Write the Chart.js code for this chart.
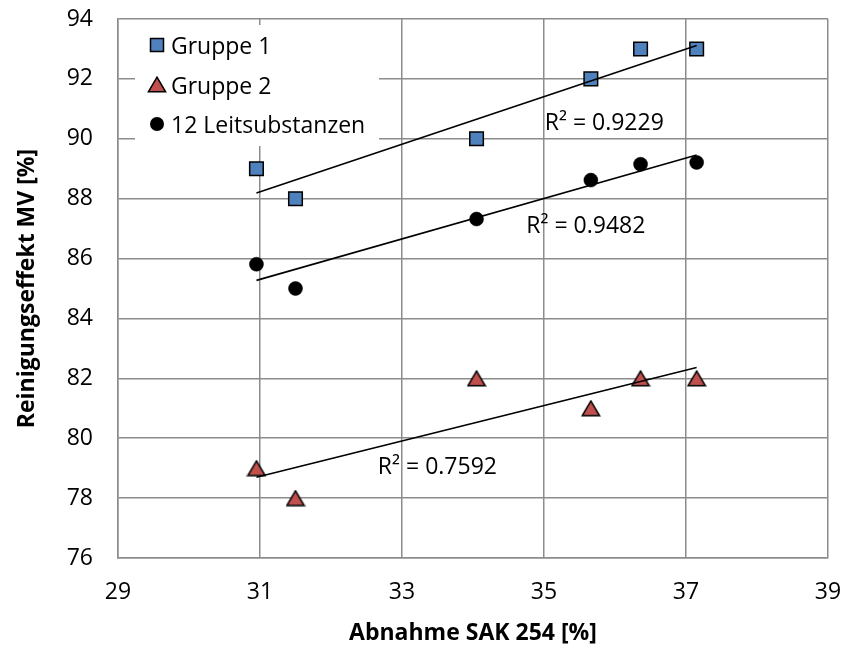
<!DOCTYPE html>
<html><head><meta charset="utf-8">
<script src="https://cdn.jsdelivr.net/npm/chart.js@4.4.1/dist/chart.umd.min.js"></script>
<style>html,body{margin:0;padding:0;background:#fff;}canvas{display:block;}</style>
</head><body>
<canvas id="c" width="844" height="649"></canvas>
<script>
// ---- data ----
const seriesNames = ['Gruppe 1', 'Gruppe 2', '12 Leitsubstanzen'];
const sakDecrease = [30.95, 31.50, 34.05, 35.66, 36.36, 37.15];
const gruppe1 = [89, 88, 90, 92, 93, 93];
const gruppe2 = [79, 78, 82, 81, 82, 82];
const leitsubstanzen = [85.81, 85.00, 87.32, 88.62, 89.15, 89.21];
const xTickValues = [29, 31, 33, 35, 37, 39];
const yTickValues = [76, 78, 80, 82, 84, 86, 88, 90, 92, 94];
const r2Texts = ['R² = 0.9229', 'R² = 0.7592', 'R² = 0.9482'];
const xTitle = 'Abnahme SAK 254 [%]';
const yTitle = 'Reinigungseffekt MV [%]';

// ---- styling ----
const FONT = "'Open Sans', 'DejaVu Sans', sans-serif";
const BLUE = '#4F81BD', RED = '#C0504D';
const GRID = '#8c8c8c';

function pts(ys) { return sakDecrease.map((x, i) => ({x, y: ys[i]})); }
// least-squares linear trendline (Excel "linear trendline")
function trend(ys) {
  const n = sakDecrease.length;
  const mx = sakDecrease.reduce((a, b) => a + b, 0) / n;
  const my = ys.reduce((a, b) => a + b, 0) / n;
  let sxy = 0, sxx = 0;
  for (let i = 0; i < n; i++) { sxy += (sakDecrease[i] - mx) * (ys[i] - my); sxx += (sakDecrease[i] - mx) ** 2; }
  const k = sxy / sxx;
  const x0 = Math.min(...sakDecrease), x1 = Math.max(...sakDecrease);
  return [{x: x0, y: my + k * (x0 - mx)}, {x: x1, y: my + k * (x1 - mx)}];
}

// triangle marker with its bounding box centred on the point
function makeTriangle() {
  const c = document.createElement('canvas');
  c.width = 20; c.height = 17;
  const g = c.getContext('2d');
  g.beginPath();
  g.moveTo(10, 1.2); g.lineTo(18.6, 15.8); g.lineTo(1.4, 15.8); g.closePath();
  g.fillStyle = RED; g.fill();
  g.lineWidth = 1.5; g.strokeStyle = '#000'; g.lineJoin = 'miter'; g.stroke();
  return c;
}
const triangleImg = makeTriangle();

// R² label anchors (data coordinates: left edge / baseline)
const r2Anchors = [
  {x: 35.01, y: 90.3},
  {x: 32.66, y: 78.8},
  {x: 34.75, y: 86.85}
];

const overlayPlugin = {
  id: 'overlay',
  beforeDatasetsDraw(chart) {
    const {ctx, chartArea: a} = chart;
    ctx.save();
    // legend box (covers grid lines)
    ctx.fillStyle = '#fff';
    ctx.fillRect(a.left + 17, a.top + 6, 244, 121);
    const rows = [35, 74.5, 114];
    const mx = a.left + 39;
    ctx.font = '23px ' + FONT;
    ctx.textBaseline = 'alphabetic';
    ctx.textAlign = 'left';
    rows.forEach((ry, i) => {
      const cy = a.top + ry - 9;
      if (i === 0) {
        ctx.fillStyle = BLUE; ctx.fillRect(mx - 6.5, cy - 6.5, 13, 13);
        ctx.lineWidth = 1.5; ctx.strokeStyle = '#000'; ctx.strokeRect(mx - 6.5, cy - 6.5, 13, 13);
      } else if (i === 1) {
        ctx.drawImage(triangleImg, mx - 10, cy - 8.5);
      } else {
        ctx.beginPath(); ctx.arc(mx, cy, 7, 0, Math.PI * 2); ctx.fillStyle = '#000'; ctx.fill();
      }
      ctx.fillStyle = '#000';
      ctx.fillText(seriesNames[i], a.left + 53, a.top + ry);
    });
    ctx.restore();
  },
  afterDatasetsDraw(chart) {
    const {ctx, scales: {x, y}} = chart;
    ctx.save();
    ctx.font = '23px ' + FONT;
    ctx.fillStyle = '#000';
    ctx.textBaseline = 'alphabetic';
    ctx.textAlign = 'left';
    r2Texts.forEach((t, i) => {
      ctx.fillText(t, x.getPixelForValue(r2Anchors[i].x), y.getPixelForValue(r2Anchors[i].y));
    });
    ctx.restore();
  }
};

const trendStyle = {type: 'line', borderColor: '#000', borderWidth: 1.6, pointRadius: 0, fill: false, order: 0, showLine: true};

new Chart(document.getElementById('c'), {
  type: 'scatter',
  data: {
    datasets: [
      {label: 'Trend ' + seriesNames[0], data: trend(gruppe1), ...trendStyle},
      {label: 'Trend ' + seriesNames[1], data: trend(gruppe2), ...trendStyle},
      {label: 'Trend ' + seriesNames[2], data: trend(leitsubstanzen), ...trendStyle},
      {label: seriesNames[0], data: pts(gruppe1), pointStyle: 'rect', pointRadius: 9.6, backgroundColor: BLUE, borderColor: '#000', borderWidth: 1.5, order: 1},
      {label: seriesNames[1], data: pts(gruppe2), pointStyle: triangleImg, pointRadius: 9, backgroundColor: RED, borderColor: '#000', order: 1},
      {label: seriesNames[2], data: pts(leitsubstanzen), pointStyle: 'circle', pointRadius: 7, backgroundColor: '#000', borderColor: '#000', borderWidth: 0.5, order: 1}
    ]
  },
  options: {
    responsive: false,
    animation: false,
    devicePixelRatio: 1,
    layout: {padding: {left: 0, right: 16, top: 19, bottom: 0}},
    plugins: {legend: {display: false}, tooltip: {enabled: false}},
    scales: {
      x: {
        type: 'linear', min: 29, max: 39,
        afterBuildTicks: s => { s.ticks = xTickValues.map(v => ({value: v})); },
        afterFit: s => { s.height = 91; s.paddingLeft = 0; s.paddingRight = 0; },
        grid: {color: GRID, lineWidth: 1.5, drawTicks: false},
        border: {color: GRID, width: 1.5},
        ticks: {color: '#000', font: {family: FONT, size: 23}, padding: 21, maxRotation: 0},
        title: {display: true, text: xTitle, color: '#000', font: {family: FONT, size: 23, weight: 'bold'}, padding: {top: 0, bottom: 2}}
      },
      y: {
        type: 'linear', min: 76, max: 94,
        afterBuildTicks: s => { s.ticks = yTickValues.map(v => ({value: v})); },
        afterFit: s => { s.width = 118; s.paddingTop = 0; s.paddingBottom = 0; },
        grid: {color: GRID, lineWidth: 1.5, drawTicks: false},
        border: {color: GRID, width: 1.5},
        ticks: {color: '#000', font: {family: FONT, size: 23}, padding: 25},
        title: {display: true, text: yTitle, color: '#000', font: {family: FONT, size: 23, weight: 'bold'}, padding: {top: 14, bottom: 0}}
      }
    }
  },
  plugins: [overlayPlugin]
});
</script>
</body></html>
